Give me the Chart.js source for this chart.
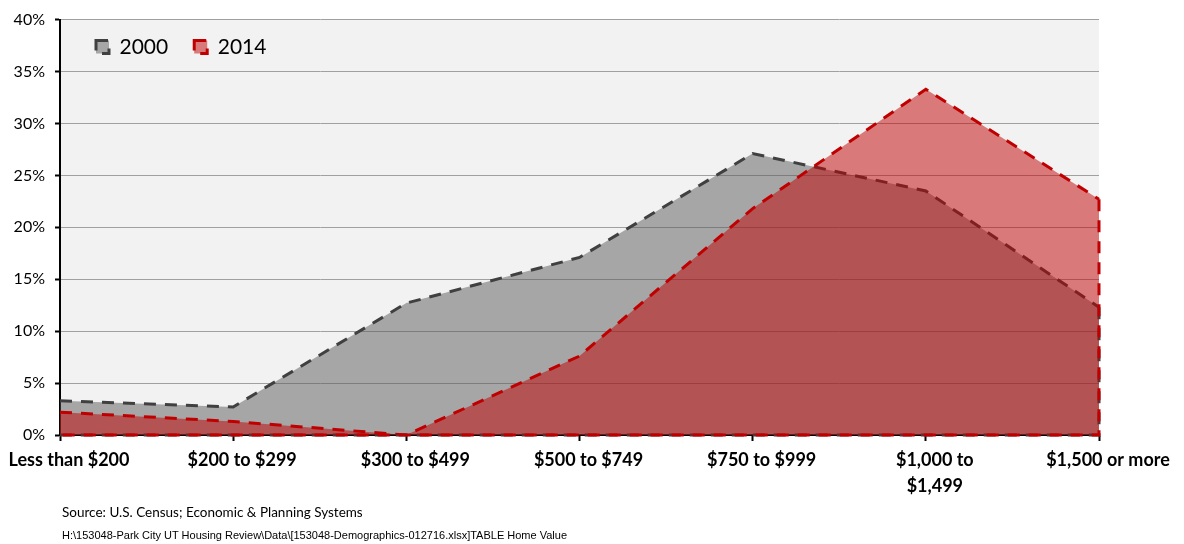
<!DOCTYPE html>
<html>
<head>
<meta charset="utf-8">
<script src="https://cdn.jsdelivr.net/npm/chart.js@4"></script>
<style>
    html, body { margin: 0; padding: 0; background: #fff; }
    #wrap { position: relative; width: 1184px; height: 544px; }
    #note1 { position: absolute; left: 62px; top: 504px; font: 13.5px Lato, sans-serif; color: #000; }
    #note2 { position: absolute; left: 62px; top: 529px; font: 11px "Liberation Sans", Arial, sans-serif; color: #000; }
</style>
</head>
<body>
<div id="wrap">
    <canvas id="homeValueChart" width="1184" height="544"></canvas>
    <div id="note1">Source: U.S. Census; Economic &amp; Planning Systems</div>
    <div id="note2">H:\153048-Park City UT Housing Review\Data\[153048-Demographics-012716.xlsx]TABLE Home Value</div>
</div>
<script>
(function() {
    'use strict';

    var categories = ['Less than $200', '$200 to $299', '$300 to $499', '$500 to $749',
        '$750 to $999', ['$1,000 to', '$1,499'], '$1,500 or more'];
    var values2000 = [3.3, 2.7, 12.7, 17.1, 27.1, 23.5, 12.3];
    var values2014 = [2.2, 1.3, 0.0, 7.6, 21.8, 33.3, 22.7];
    var yTicks = [0, 5, 10, 15, 20, 25, 30, 35, 40];

    // grey plot background
    var plotBackground = {
        id: 'plotBackground',
        beforeDraw: function(chart) {
            var a = chart.chartArea;
            var ctx = chart.ctx;
            ctx.save();
            ctx.fillStyle = '#f2f2f2';
            ctx.fillRect(a.left, a.top, a.right - a.left, a.bottom - a.top);
            ctx.restore();
        }
    };

    // close each area outline (right edge + baseline) like Excel does
    var areaOutline = {
        id: 'areaOutline',
        afterDatasetDraw: function(chart, args) {
            var ds = chart.data.datasets[args.index];
            var pts = args.meta.data;
            if (!pts.length) return;
            var base = chart.scales.y.getPixelForValue(0);
            var first = pts[0], last = pts[pts.length - 1];
            var ctx = chart.ctx;
            ctx.save();
            ctx.strokeStyle = ds.borderColor;
            ctx.lineWidth = ds.borderWidth;
            ctx.setLineDash(ds.borderDash);
            ctx.beginPath();
            ctx.moveTo(last.x, last.y);
            ctx.lineTo(last.x, base);
            ctx.lineTo(first.x, base);
            ctx.stroke();
            ctx.restore();
        }
    };

    // legend sits inside the plot area, items side by side
    var legendNudge = {
        id: 'legendNudge',
        afterLayout: function(chart) {
            var legend = chart.legend;
            if (!legend) return;
            legend.maxHeight = 50;
            legend.fit();
            legend.left = chart.chartArea.left + 10;
            legend.top = chart.chartArea.top - 9;
            legend.bottom = legend.top + 50;
        }
    };

    var ctx = document.getElementById('homeValueChart').getContext('2d');

    new Chart(ctx, {
        type: 'line',
        data: {
            labels: categories,
            datasets: [{
                label: '2000',
                data: values2000,
                borderColor: '#404040',
                backgroundColor: 'rgba(90, 90, 90, 0.5)',
                borderWidth: 3,
                borderDash: [12, 9],
                fill: 'origin',
                pointRadius: 0,
                tension: 0,
                order: 1
            }, {
                label: '2014',
                data: values2014,
                borderColor: '#c00000',
                backgroundColor: 'rgba(192, 0, 0, 0.5)',
                borderWidth: 3,
                borderDash: [12, 9],
                fill: 'origin',
                pointRadius: 0,
                tension: 0,
                order: 0
            }]
        },
        options: {
            responsive: false,
            animation: false,
            layout: {
                padding: { top: 17, right: 85, left: 0, bottom: 0 }
            },
            plugins: {
                legend: {
                    position: 'chartArea',
                    align: 'start',
                    labels: {
                        boxWidth: 13,
                        boxHeight: 13,
                        padding: 26,
                        color: '#000',
                        font: { family: 'Lato, sans-serif', size: 21 },
                        sort: function(a, b) { return a.datasetIndex - b.datasetIndex; }
                    }
                },
                tooltip: { enabled: false }
            },
            scales: {
                x: {
                    offset: false,
                    grid: {
                        drawOnChartArea: false,
                        tickLength: 6,
                        tickColor: '#000',
                        tickWidth: 2
                    },
                    border: { color: '#000', width: 2 },
                    ticks: {
                        autoSkip: false,
                        maxRotation: 0,
                        padding: 7,
                        labelOffset: 9,
                        color: '#000',
                        font: { family: 'Lato, sans-serif', size: 18, weight: 'bold', lineHeight: 1.4 }
                    },
                    afterFit: function(scale) {
                        scale.height = 109;
                        scale.paddingLeft = 0;
                        scale.paddingRight = 0;
                    }
                },
                y: {
                    min: 0,
                    max: 40,
                    afterBuildTicks: function(scale) {
                        scale.ticks = yTicks.map(function(v) { return { value: v }; });
                    },
                    grid: {
                        color: '#a0a0a0',
                        lineWidth: 1,
                        tickLength: 5,
                        tickColor: '#000',
                        tickWidth: 2
                    },
                    border: { color: '#000', width: 2 },
                    ticks: {
                        padding: 10,
                        color: '#000',
                        font: { family: 'Lato, sans-serif', size: 16 },
                        callback: function(value) { return value + '%'; }
                    },
                    afterFit: function(scale) { scale.width = 60; }
                }
            }
        },
        plugins: [plotBackground, areaOutline, legendNudge]
    });
})();
</script>
</body>
</html>
